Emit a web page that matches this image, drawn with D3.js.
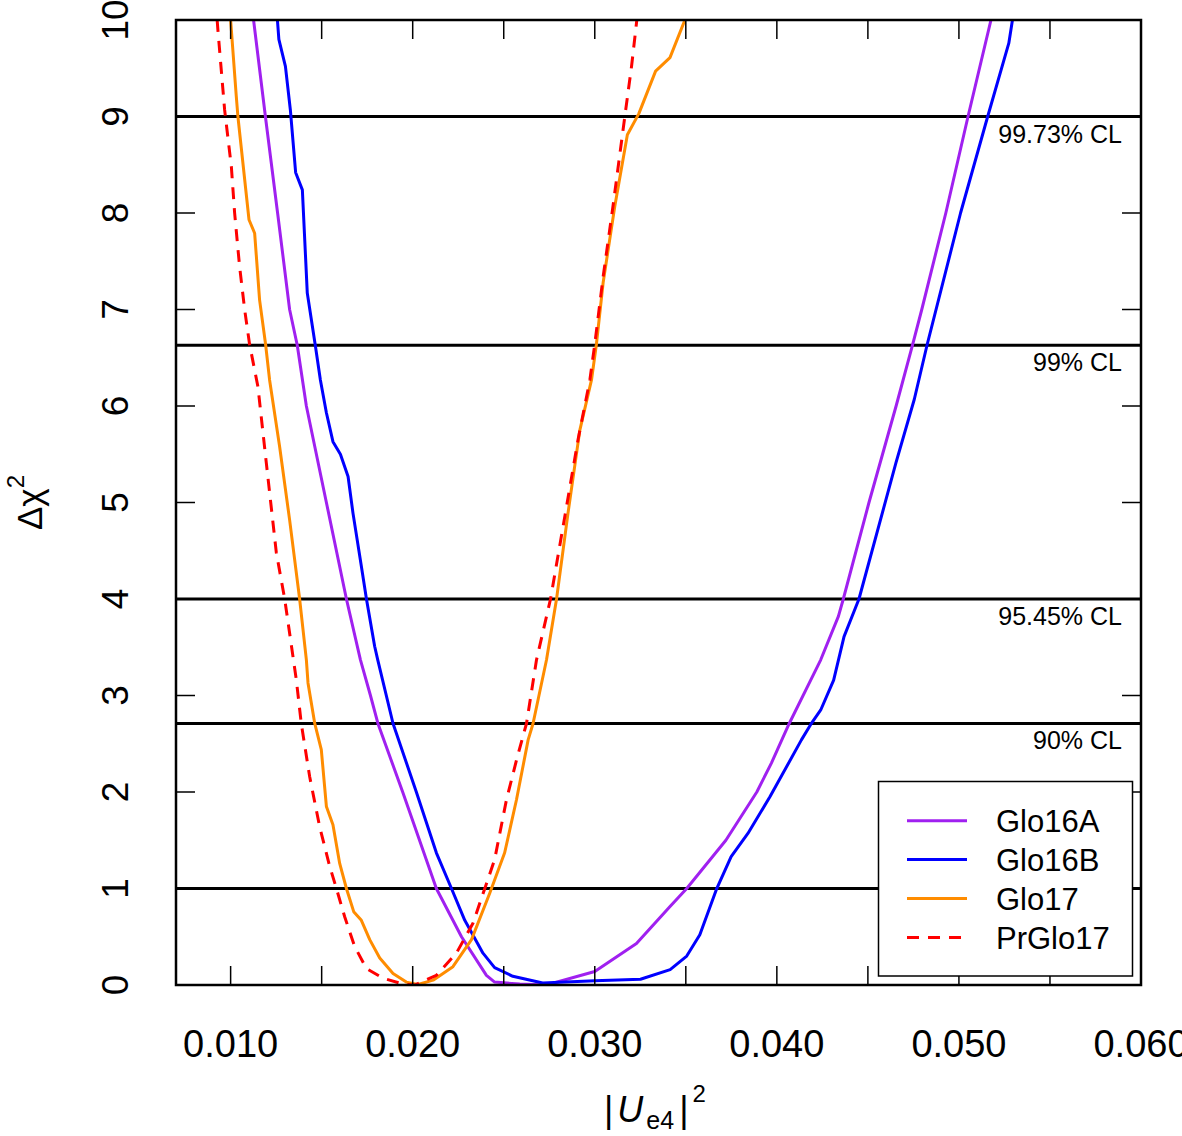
<!DOCTYPE html>
<html>
<head>
<meta charset="utf-8">
<script src="https://cdn.jsdelivr.net/npm/d3@7"></script>
<style>
  body { margin: 0; background: #fff; }
  svg { display: block; font-family: "Liberation Sans", Arial, Helvetica, sans-serif; }
</style>
</head>
<body>
<svg id="chart" width="1182" height="1136"></svg>
<script>
// values: [ |Ue4|^2 , delta chi^2 ]
const glo16A = [
  [0.01126, 10.0], [0.01191, 9.0], [0.01258, 8.0], [0.01324, 7.0], [0.01366, 6.63],
  [0.01416, 6.0], [0.01526, 5.0], [0.01636, 4.0], [0.01713, 3.37], [0.01768, 3.0],
  [0.01809, 2.71], [0.01945, 2.0], [0.0213, 1.0], [0.02268, 0.5], [0.02405, 0.1],
  [0.0245, 0.03], [0.02588, 0.01], [0.02735, 0.0], [0.0300, 0.14], [0.03229, 0.43],
  [0.03412, 0.81], [0.03505, 1.0], [0.0372, 1.5], [0.0389, 2.0], [0.0397, 2.3],
  [0.04068, 2.71], [0.04241, 3.37], [0.04338, 3.82], [0.04365, 4.0], [0.04506, 5.0],
  [0.04655, 6.0], [0.04745, 6.63], [0.04796, 7.0], [0.04928, 8.0], [0.0505, 9.0],
  [0.05176, 10.0]
];
const glo16B = [
  [0.01257, 10.0], [0.01265, 9.80], [0.01301, 9.52], [0.01328, 9.07], [0.01357, 8.42],
  [0.01394, 8.24], [0.01421, 7.17], [0.01465, 6.63], [0.01493, 6.27], [0.01526, 5.93],
  [0.01562, 5.63], [0.01603, 5.50], [0.01645, 5.27], [0.01672, 4.89], [0.01718, 4.34],
  [0.01746, 4.0], [0.01791, 3.51], [0.01808, 3.37], [0.01892, 2.71], [0.0202, 2.0],
  [0.0213, 1.37], [0.02213, 1.0], [0.02286, 0.67], [0.02386, 0.33], [0.0245, 0.18],
  [0.0255, 0.09], [0.02714, 0.02], [0.0300, 0.045], [0.03251, 0.06], [0.03414, 0.16],
  [0.03505, 0.30], [0.03577, 0.52], [0.03668, 0.99], [0.03749, 1.33], [0.03841, 1.57],
  [0.03962, 1.95], [0.04135, 2.54], [0.04186, 2.70], [0.04241, 2.85], [0.04312, 3.16],
  [0.04369, 3.61], [0.04451, 4.0], [0.04654, 5.41], [0.04755, 6.07], [0.04826, 6.64],
  [0.05009, 8.0], [0.05158, 9.0], [0.05274, 9.76], [0.05294, 10.0]
];
const glo17 = [
  [0.0100, 10.0], [0.01031, 9.21], [0.0104, 9.0], [0.01101, 7.93], [0.01132, 7.79],
  [0.01159, 7.10], [0.01192, 6.64], [0.01214, 6.27], [0.01269, 5.58], [0.01324, 4.82],
  [0.01379, 4.0], [0.01416, 3.37], [0.01425, 3.13], [0.01462, 2.71], [0.01498, 2.44],
  [0.01526, 1.85], [0.01562, 1.66], [0.01599, 1.26], [0.01636, 1.0], [0.01676, 0.76],
  [0.01718, 0.67], [0.01764, 0.47], [0.01819, 0.28], [0.01892, 0.12], [0.01965, 0.03],
  [0.02029, 0.005], [0.02112, 0.05], [0.02221, 0.19], [0.02323, 0.47], [0.02423, 0.95],
  [0.02505, 1.37], [0.0257, 1.92], [0.02634, 2.54], [0.02661, 2.71], [0.02735, 3.37],
  [0.0279, 4.0], [0.02853, 4.89], [0.02918, 5.75], [0.02982, 6.27], [0.03009, 6.64],
  [0.03046, 7.28], [0.0311, 8.07], [0.03179, 8.81], [0.03242, 9.03], [0.03334, 9.47],
  [0.03413, 9.61], [0.03495, 10.0]
];
const prGlo17 = [
  [0.00926, 10.0], [0.0093, 9.90], [0.00967, 9.07], [0.01004, 8.48], [0.01022, 8.0],
  [0.01049, 7.45], [0.01077, 7.0], [0.01104, 6.64], [0.0115, 6.2], [0.01196, 5.41],
  [0.01251, 4.48], [0.01297, 4.0], [0.01361, 3.16], [0.01388, 2.71], [0.01434, 2.16],
  [0.01489, 1.64], [0.01544, 1.23], [0.01581, 1.0], [0.01626, 0.71], [0.01681, 0.40],
  [0.01746, 0.17], [0.01837, 0.07], [0.01947, 0.01], [0.02011, 0.0], [0.0213, 0.10],
  [0.0224, 0.33], [0.02331, 0.64], [0.02396, 1.0], [0.0245, 1.30], [0.02515, 1.92],
  [0.0257, 2.33], [0.02625, 2.71], [0.0268, 3.37], [0.02757, 4.0], [0.02845, 4.96],
  [0.02908, 5.65], [0.02973, 6.27], [0.0300, 6.64], [0.03046, 7.34], [0.031, 8.07],
  [0.03165, 9.0], [0.03202, 9.52], [0.03231, 10.0]
];

const clLevels = [1, 2.71, 4, 6.63, 9];
const clLabels = ["", "90% CL", "95.45% CL", "99% CL", "99.73% CL"];

const xTickLabels = [0.010, 0.020, 0.030, 0.040, 0.050, 0.060];
const xMinorTicks = d3.range(0.010, 0.0601, 0.005);
const yTicks = d3.range(0, 11, 1);

const series = [
  { name: "Glo16A", data: glo16A, color: "#A020F0", dash: null },
  { name: "Glo16B", data: glo16B, color: "#0000FF", dash: null },
  { name: "Glo17", data: glo17, color: "#FF8C00", dash: null },
  { name: "PrGlo17", data: prGlo17, color: "#FF0000", dash: "12,9" }
];

const pLeft = 176, pRight = 1141, pTop = 20, pBottom = 985;
const svg = d3.select('#chart');
const x = d3.scaleLinear().domain([0.007, 0.060]).range([pLeft, pRight]);
const y = d3.scaleLinear().domain([0, 10]).range([pBottom, pTop]);

svg.append('defs').append('clipPath').attr('id', 'plotclip')
  .append('rect').attr('x', pLeft).attr('y', pTop)
  .attr('width', pRight - pLeft).attr('height', pBottom - pTop);

// confidence level lines
svg.selectAll('.cl').data(clLevels).enter().append('line')
  .attr('class', 'cl')
  .attr('x1', pLeft).attr('x2', pRight)
  .attr('y1', d => y(d)).attr('y2', d => y(d))
  .attr('stroke', '#000').attr('stroke-width', 3);

svg.selectAll('.cllab').data(clLevels).enter().append('text')
  .attr('class', 'cllab')
  .attr('x', pRight - 19).attr('y', d => y(d) + 26)
  .attr('text-anchor', 'end').attr('font-size', 25)
  .text((d, i) => clLabels[i]);

// curves
const line = d3.line().x(d => x(d[0])).y(d => y(d[1]));
const curves = svg.append('g').attr('clip-path', 'url(#plotclip)');
series.forEach(s => {
  curves.append('path').datum(s.data)
    .attr('d', line)
    .attr('fill', 'none')
    .attr('stroke', s.color)
    .attr('stroke-width', 3)
    .attr('stroke-linejoin', 'round')
    .attr('stroke-dasharray', s.dash);
});

// inside ticks on all four sides
const tickLen = 19;
svg.append('g').selectAll('line').data(xMinorTicks).enter().append('line')
  .attr('x1', d => x(d)).attr('x2', d => x(d))
  .attr('y1', pBottom).attr('y2', pBottom - tickLen)
  .attr('stroke', '#000').attr('stroke-width', 1.5);
svg.append('g').selectAll('line').data(xMinorTicks).enter().append('line')
  .attr('x1', d => x(d)).attr('x2', d => x(d))
  .attr('y1', pTop).attr('y2', pTop + tickLen)
  .attr('stroke', '#000').attr('stroke-width', 1.5);
svg.append('g').selectAll('line').data(yTicks).enter().append('line')
  .attr('x1', pLeft).attr('x2', pLeft + tickLen)
  .attr('y1', d => y(d)).attr('y2', d => y(d))
  .attr('stroke', '#000').attr('stroke-width', 1.5);
svg.append('g').selectAll('line').data(yTicks).enter().append('line')
  .attr('x1', pRight).attr('x2', pRight - tickLen)
  .attr('y1', d => y(d)).attr('y2', d => y(d))
  .attr('stroke', '#000').attr('stroke-width', 1.5);

// tick labels
svg.append('g').selectAll('text').data(xTickLabels).enter().append('text')
  .attr('x', d => x(d)).attr('y', 1057)
  .attr('text-anchor', 'middle').attr('font-size', 38)
  .text(d => d3.format('.3f')(d));

svg.append('g').selectAll('text').data(yTicks).enter().append('text')
  .attr('transform', d => `translate(128,${y(d)}) rotate(-90)`)
  .attr('text-anchor', 'middle').attr('font-size', 37)
  .text(d => d);

// plot frame
svg.append('rect')
  .attr('x', pLeft).attr('y', pTop)
  .attr('width', pRight - pLeft).attr('height', pBottom - pTop)
  .attr('fill', 'none').attr('stroke', '#000').attr('stroke-width', 2.5);

// axis titles
const xt = svg.append('text')
  .attr('x', 604).attr('y', 1122)
  .attr('font-size', 36);
xt.append('tspan').text('|');
xt.append('tspan').attr('font-style', 'italic').attr('dx', 4).text('U');
xt.append('tspan').attr('font-size', 25).attr('dy', 7).attr('dx', 3).text('e4');
xt.append('tspan').attr('dy', -7).attr('dx', 5).text('|');
xt.append('tspan').attr('font-size', 24).attr('dy', -20).attr('dx', 4).text('2');

const yt = svg.append('text')
  .attr('transform', `translate(42,${(pTop + pBottom) / 2}) rotate(-90)`)
  .attr('text-anchor', 'middle').attr('font-size', 35);
yt.append('tspan').text('Δχ');
yt.append('tspan').attr('font-size', 24).attr('dy', -18).text('2');

// legend
const lg = svg.append('g');
lg.append('rect')
  .attr('x', 878.5).attr('y', 781.5).attr('width', 254).attr('height', 194.5)
  .attr('fill', '#fff').attr('stroke', '#000').attr('stroke-width', 1.5);
series.forEach((s, i) => {
  const ly = 820.7 + i * 38.9;
  lg.append('line')
    .attr('x1', 907).attr('x2', 967).attr('y1', ly).attr('y2', ly)
    .attr('stroke', s.color).attr('stroke-width', 3)
    .attr('stroke-dasharray', s.dash);
  lg.append('text')
    .attr('x', 996).attr('y', ly + 11.5)
    .attr('font-size', 31)
    .text(s.name);
});
</script>
</body>
</html>
